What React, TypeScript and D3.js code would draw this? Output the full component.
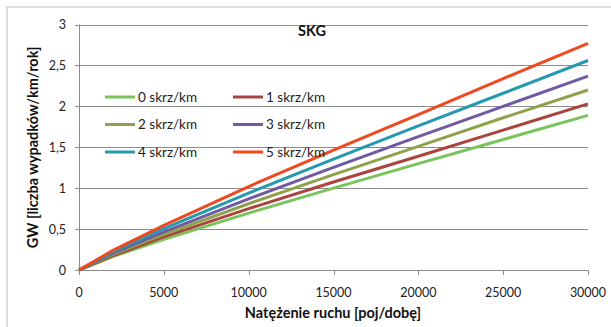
import React from "react";
import * as d3 from "d3";

const xValues = [0, 2000, 5000, 10000, 15000, 20000, 25000, 30000];
const seriesNames = ["0 skrz/km", "1 skrz/km", "2 skrz/km", "3 skrz/km", "4 skrz/km", "5 skrz/km"];
const s0 = [0, 0.165, 0.375, 0.695, 1.0, 1.30, 1.595, 1.89];
const s1 = [0, 0.175, 0.405, 0.75, 1.075, 1.39, 1.71, 2.03];
const s2 = [0, 0.19, 0.435, 0.81, 1.165, 1.51, 1.86, 2.20];
const s3 = [0, 0.205, 0.465, 0.87, 1.255, 1.63, 2.0, 2.37];
const s4 = [0, 0.22, 0.505, 0.94, 1.355, 1.76, 2.16, 2.56];
const s5 = [0, 0.24, 0.545, 1.02, 1.465, 1.90, 2.34, 2.77];
const seriesValues = [s0, s1, s2, s3, s4, s5];
const colors = ["#78c45a", "#a9443f", "#8ea24c", "#6f5aa3", "#2499b0", "#f0491f"];
const xTicks = [0, 5000, 10000, 15000, 20000, 25000, 30000];
const yTicks = [0, 0.5, 1, 1.5, 2, 2.5, 3];
const yTickLabels = ["0", "0,5", "1", "1,5", "2", "2,5", "3"];

export default function App() {
  const W = 611, H = 327;
  const x = d3.scaleLinear().domain([0, 30000]).range([79, 588]);
  const y = d3.scaleLinear().domain([0, 3]).range([270, 24.5]);
  const line = d3.line<number>().x((_, i) => x(xValues[i])).y((v) => y(v));
  const font = "Lato, 'Open Sans', sans-serif";
  const grid = "#8c8c8c";
  return (
    <svg width={W} height={H} style={{ position: "absolute", left: 0, top: 0 }} fontFamily={font}>
      <rect x={0} y={0} width={W} height={H} fill="#fff" />
      <rect x={7} y={7} width={W + 10} height={H + 10} fill="#fff" stroke="#c8c8c8" strokeWidth={1.2} />
      {yTicks.map((t, i) => (
        <g key={t}>
          <line x1={75} x2={x(30000)} y1={Math.round(y(t)) + 0.5} y2={Math.round(y(t)) + 0.5} stroke={grid} strokeWidth={1} />
          <text x={66} y={y(t) + 4.5} textAnchor="end" fontSize={12.5} fill="#222">{yTickLabels[i]}</text>
        </g>
      ))}
      <line x1={79.5} x2={79.5} y1={y(3)} y2={y(0)} stroke={grid} />
      {xTicks.map((t) => (
        <g key={t}>
          <line x1={Math.round(x(t)) + 0.5} x2={Math.round(x(t)) + 0.5} y1={270} y2={275} stroke={grid} />
          <text x={x(t)} y={297} textAnchor="middle" fontSize={12.5} fill="#222">{t}</text>
        </g>
      ))}
      {seriesValues.map((vals, i) => (
        <path key={i} d={line(vals) || ""} fill="none" stroke={colors[i]} strokeWidth={3} strokeLinejoin="round" />
      ))}
      {seriesNames.map((n, i) => {
        const col = i % 2;
        const row = Math.floor(i / 2);
        const lx = col === 0 ? 105 : 233;
        const ly = 97 + row * 27.5;
        return (
          <g key={n}>
            <line x1={lx} x2={lx + 30} y1={ly} y2={ly} stroke={colors[i]} strokeWidth={3} />
            <text x={lx + 33} y={ly + 4.5} fontSize={13.5} fill="#222">{n}</text>
          </g>
        );
      })}
      <text x={312} y={36} textAnchor="middle" fontSize={14.5} fontWeight="bold" fill="#111">SKG</text>
      <text x={333} y={318} textAnchor="middle" fontSize={14.5} fontWeight="bold" fill="#111">Natężenie ruchu [poj/dobę]</text>
      <text transform={`translate(38,${(y(0) + y(3)) / 2}) rotate(-90)`} textAnchor="middle" fontSize={14.5} fontWeight="bold" fill="#111">GW [liczba wypadków/km/rok]</text>
    </svg>
  );
}
